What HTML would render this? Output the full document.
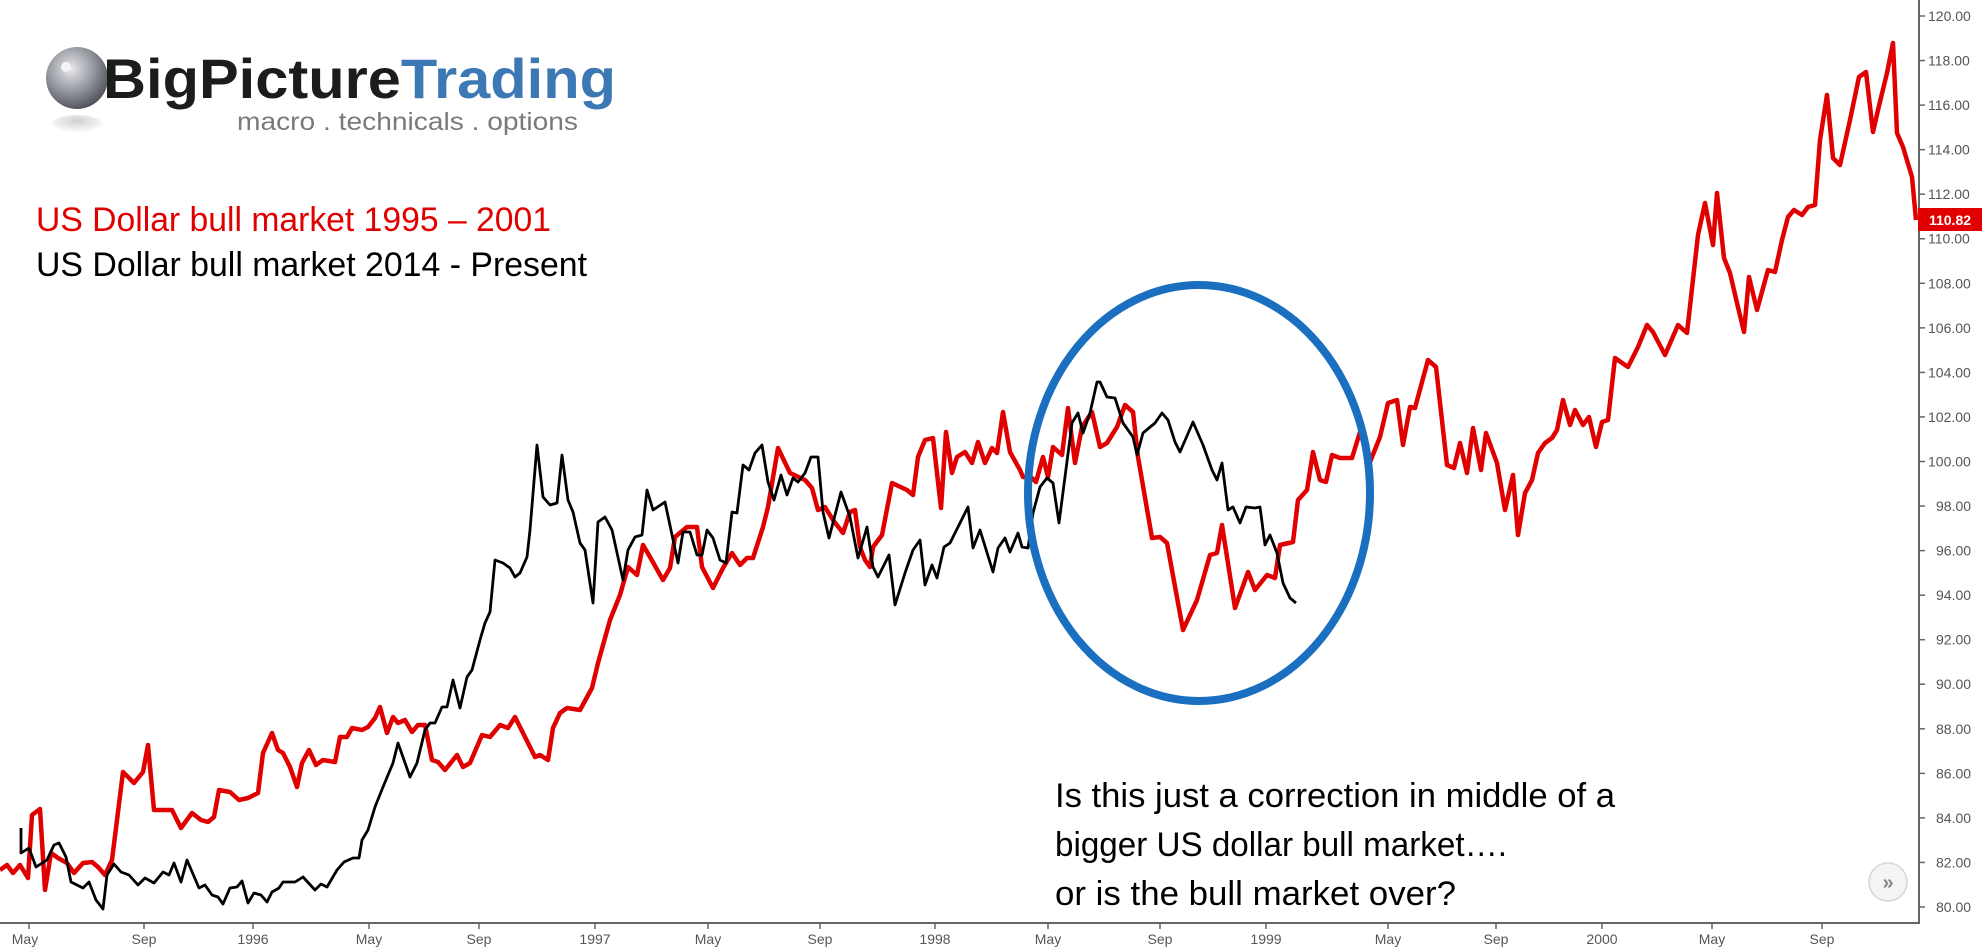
<!DOCTYPE html>
<html><head><meta charset="utf-8"><style>
html,body{margin:0;padding:0;background:#fff;}
svg{display:block;}
</style></head><body>
<svg width="1982" height="950" viewBox="0 0 1982 950" xmlns="http://www.w3.org/2000/svg">
<rect width="1982" height="950" fill="#fff"/>
<defs>
<radialGradient id="sph" cx="0.4" cy="0.35" r="0.7">
<stop offset="0" stop-color="#e8e8ec"/><stop offset="0.5" stop-color="#9a9ca4"/><stop offset="1" stop-color="#4a4c55"/>
</radialGradient>
<radialGradient id="refl" cx="0.5" cy="0.3" r="0.6">
<stop offset="0" stop-color="#bbb"/><stop offset="1" stop-color="#fff"/>
</radialGradient>
</defs>
<ellipse cx="77" cy="125" rx="26" ry="10" fill="url(#refl)" opacity="0.7"/>
<circle cx="77" cy="78" r="31" fill="url(#sph)"/>
<circle cx="66" cy="67" r="5" fill="#f4f4f4"/>
<text x="103" y="98" font-family="Liberation Sans, sans-serif" font-weight="bold" font-size="56" textLength="513" lengthAdjust="spacingAndGlyphs"><tspan fill="#1c1c1c">BigPicture</tspan><tspan fill="#3b78b4">Trading</tspan></text>
<text x="237" y="130" font-family="Liberation Sans, sans-serif" font-size="25" fill="#7a7a7a" textLength="341" lengthAdjust="spacingAndGlyphs">macro . technicals . options</text>
<text x="36" y="231" font-family="Liberation Sans, sans-serif" font-size="34" fill="#e00000" textLength="515" lengthAdjust="spacingAndGlyphs">US Dollar bull market 1995 – 2001</text>
<text x="36" y="276" font-family="Liberation Sans, sans-serif" font-size="34" fill="#000" textLength="551" lengthAdjust="spacingAndGlyphs">US Dollar bull market 2014 - Present</text>
<g font-family="Liberation Sans, sans-serif" font-size="34" fill="#000">
<text x="1055" y="807" textLength="560" lengthAdjust="spacingAndGlyphs">Is this just a correction in middle of a</text>
<text x="1055" y="856" textLength="452" lengthAdjust="spacingAndGlyphs">bigger US dollar bull market….</text>
<text x="1055" y="905" textLength="401" lengthAdjust="spacingAndGlyphs">or is the bull market over?</text>
</g>
<line x1="0" y1="923" x2="1919" y2="923" stroke="#666" stroke-width="2"/>
<line x1="1919" y1="0" x2="1919" y2="924" stroke="#666" stroke-width="2"/>
<g stroke="#666" stroke-width="1.5">
<line x1="1919" x2="1925" y1="16" y2="16"/><line x1="1919" x2="1925" y1="60.55" y2="60.55"/><line x1="1919" x2="1925" y1="105.1" y2="105.1"/><line x1="1919" x2="1925" y1="149.65" y2="149.65"/><line x1="1919" x2="1925" y1="194.2" y2="194.2"/><line x1="1919" x2="1925" y1="238.75" y2="238.75"/><line x1="1919" x2="1925" y1="283.3" y2="283.3"/><line x1="1919" x2="1925" y1="327.85" y2="327.85"/><line x1="1919" x2="1925" y1="372.4" y2="372.4"/><line x1="1919" x2="1925" y1="416.95" y2="416.95"/><line x1="1919" x2="1925" y1="461.5" y2="461.5"/><line x1="1919" x2="1925" y1="506.05" y2="506.05"/><line x1="1919" x2="1925" y1="550.6" y2="550.6"/><line x1="1919" x2="1925" y1="595.15" y2="595.15"/><line x1="1919" x2="1925" y1="639.7" y2="639.7"/><line x1="1919" x2="1925" y1="684.25" y2="684.25"/><line x1="1919" x2="1925" y1="728.8" y2="728.8"/><line x1="1919" x2="1925" y1="773.35" y2="773.35"/><line x1="1919" x2="1925" y1="817.9" y2="817.9"/><line x1="1919" x2="1925" y1="862.45" y2="862.45"/><line x1="1919" x2="1925" y1="907" y2="907"/>
</g>
<g font-family="Liberation Sans, sans-serif" font-size="14" fill="#555">
<text x="1928" y="21">120.00</text><text x="1928" y="65.5">118.00</text><text x="1928" y="110">116.00</text><text x="1928" y="154.6">114.00</text><text x="1928" y="199">112.00</text><text x="1928" y="243.7">110.00</text><text x="1928" y="288.3">108.00</text><text x="1928" y="332.8">106.00</text><text x="1928" y="377.4">104.00</text><text x="1928" y="422">102.00</text><text x="1928" y="466.5">100.00</text><text x="1936" y="511">98.00</text><text x="1936" y="555.6">96.00</text><text x="1936" y="600">94.00</text><text x="1936" y="644.7">92.00</text><text x="1936" y="689.2">90.00</text><text x="1936" y="733.8">88.00</text><text x="1936" y="778.3">86.00</text><text x="1936" y="822.9">84.00</text><text x="1936" y="867.4">82.00</text><text x="1936" y="912">80.00</text>
</g>
<g stroke="#666" stroke-width="1.5">
<line x1="29" x2="29" y1="923" y2="929"/><line x1="144" x2="144" y1="923" y2="929"/><line x1="253" x2="253" y1="923" y2="929"/><line x1="369" x2="369" y1="923" y2="929"/><line x1="479" x2="479" y1="923" y2="929"/><line x1="595" x2="595" y1="923" y2="929"/><line x1="708" x2="708" y1="923" y2="929"/><line x1="820" x2="820" y1="923" y2="929"/><line x1="935" x2="935" y1="923" y2="929"/><line x1="1048" x2="1048" y1="923" y2="929"/><line x1="1160" x2="1160" y1="923" y2="929"/><line x1="1266" x2="1266" y1="923" y2="929"/><line x1="1388" x2="1388" y1="923" y2="929"/><line x1="1496" x2="1496" y1="923" y2="929"/><line x1="1602" x2="1602" y1="923" y2="929"/><line x1="1712" x2="1712" y1="923" y2="929"/><line x1="1822" x2="1822" y1="923" y2="929"/>
</g>
<g font-family="Liberation Sans, sans-serif" font-size="14" fill="#555" text-anchor="middle">
<text x="25" y="944">May</text><text x="144" y="944">Sep</text><text x="253" y="944">1996</text><text x="369" y="944">May</text><text x="479" y="944">Sep</text><text x="595" y="944">1997</text><text x="708" y="944">May</text><text x="820" y="944">Sep</text><text x="935" y="944">1998</text><text x="1048" y="944">May</text><text x="1160" y="944">Sep</text><text x="1266" y="944">1999</text><text x="1388" y="944">May</text><text x="1496" y="944">Sep</text><text x="1602" y="944">2000</text><text x="1712" y="944">May</text><text x="1822" y="944">Sep</text>
</g>
<polyline fill="none" stroke="#e00000" stroke-width="4.5" stroke-linejoin="round" points="0,870 7,865 13,873 20,865 28,878 32,815 40,809 45,890 51,853 58,858 67,863 74,873 83,863 92,862 98,867 105,875 112,860 123,772 134,783 143,772 148,745 154,810 172,810 181,828 192,813 201,820 208,822 214,817 219,790 230,792 239,800 248,798 258,793 263,753 272,733 278,750 283,753 290,767 297,787 302,763 309,750 316,765 323,760 335,762 340,737 347,737 352,728 362,730 368,727 375,718 380,707 387,733 393,717 398,723 405,720 412,732 418,725 425,725 432,760 438,762 445,770 457,755 463,767 470,763 482,735 490,737 500,725 508,728 515,717 523,733 535,757 540,755 548,760 553,728 560,713 567,708 580,710 592,688 598,663 610,620 620,595 628,567 637,575 643,545 650,557 663,580 670,568 675,537 687,527 697,527 702,567 713,588 723,568 732,553 740,565 747,558 753,558 763,527 768,507 778,448 790,473 805,480 812,488 818,510 825,507 833,520 843,533 850,512 855,510 860,547 865,560 870,567 873,547 882,535 892,483 907,490 913,495 918,457 925,440 933,438 941,508 946,432 952,473 957,457 965,452 972,463 978,442 985,463 992,448 997,453 1003,412 1010,452 1020,470 1023,477 1032,478 1036,482 1043,457 1048,477 1053,447 1062,455 1068,408 1075,463 1082,427 1092,412 1100,447 1107,443 1117,427 1125,405 1133,412 1138,457 1152,538 1160,537 1167,543 1183,630 1197,600 1210,555 1217,553 1222,525 1235,608 1248,572 1255,590 1267,575 1275,578 1280,545 1293,542 1298,500 1307,490 1313,452 1320,480 1326,482 1332,455 1340,458 1352,458 1360,432 1370,462 1380,437 1388,403 1397,400 1403,445 1410,407 1415,408 1428,360 1436,367 1447,465 1454,468 1460,443 1467,473 1473,428 1481,470 1486,433 1497,463 1505,510 1513,475 1518,535 1525,493 1532,480 1538,453 1545,443 1552,438 1557,430 1563,400 1570,425 1575,410 1583,425 1589,417 1596,447 1602,422 1608,420 1615,358 1628,367 1638,347 1647,325 1653,332 1665,355 1678,325 1687,333 1698,235 1705,203 1713,245 1717,193 1724,258 1730,273 1737,303 1744,332 1749,277 1757,310 1768,270 1775,272 1782,240 1788,217 1794,210 1802,215 1808,207 1815,205 1820,140 1827,95 1833,158 1840,165 1850,120 1859,77 1866,72 1873,132 1878,110 1887,73 1893,43 1897,133 1903,147 1912,177 1916,220"/>
<polyline fill="none" stroke="#000" stroke-width="2.8" stroke-linejoin="round" points="21,828 21,853 29,848 36,867 47,860 54,845 59,843 66,857 71,882 83,888 89,882 96,900 103,909 107,875 114,864 121,872 129,875 138,885 145,878 154,883 163,872 169,875 174,863 181,882 187,860 199,888 205,885 212,895 218,897 223,904 230,888 237,887 242,881 248,903 254,893 261,895 267,902 272,892 279,888 283,882 295,882 303,877 315,890 321,884 327,887 337,870 344,862 353,858 359,858 362,840 368,830 375,807 383,787 393,763 398,743 410,777 417,763 425,730 430,723 435,723 442,707 447,707 453,680 460,708 467,677 472,670 480,640 485,623 490,612 495,560 503,563 510,568 515,577 520,573 527,557 530,530 537,445 543,497 550,505 557,503 562,455 568,500 573,512 580,543 585,550 593,603 598,522 605,517 612,530 623,580 628,550 635,537 642,535 647,490 653,510 665,502 678,563 683,532 690,532 697,555 702,555 707,530 713,538 720,560 726,563 732,512 737,513 743,465 749,470 755,453 762,445 768,482 774,500 781,475 787,495 793,478 798,482 805,473 811,457 818,457 823,512 829,538 841,492 850,517 858,558 867,527 873,567 878,577 889,555 895,605 905,573 913,550 920,540 925,585 932,565 937,578 944,547 950,543 968,507 973,548 980,530 993,572 998,548 1005,538 1010,552 1018,533 1022,547 1028,548 1033,513 1040,487 1047,478 1053,483 1059,523 1072,423 1078,413 1083,433 1090,413 1097,382 1100,382 1107,397 1115,398 1123,423 1133,437 1137,455 1143,433 1155,423 1162,413 1168,420 1175,442 1180,452 1193,422 1203,445 1212,470 1217,480 1222,463 1228,510 1233,507 1240,523 1246,507 1255,508 1260,507 1265,545 1270,535 1277,553 1283,583 1290,598 1296,603"/>
<ellipse cx="1199" cy="493" rx="171" ry="208" fill="none" stroke="#1a6fc0" stroke-width="8"/>
<rect x="1918" y="208" width="64" height="23" fill="#e00000"/>
<text x="1950" y="225" font-family="Liberation Sans, sans-serif" font-size="14" font-weight="bold" fill="#fff" text-anchor="middle">110.82</text>
<circle cx="1888" cy="882" r="19" fill="#f4f4f4" stroke="#d6d6d6" stroke-width="1.5"/>
<text x="1888" y="889" font-family="Liberation Sans, sans-serif" font-size="20" font-weight="bold" fill="#888" text-anchor="middle">»</text>
</svg>
</body></html>
